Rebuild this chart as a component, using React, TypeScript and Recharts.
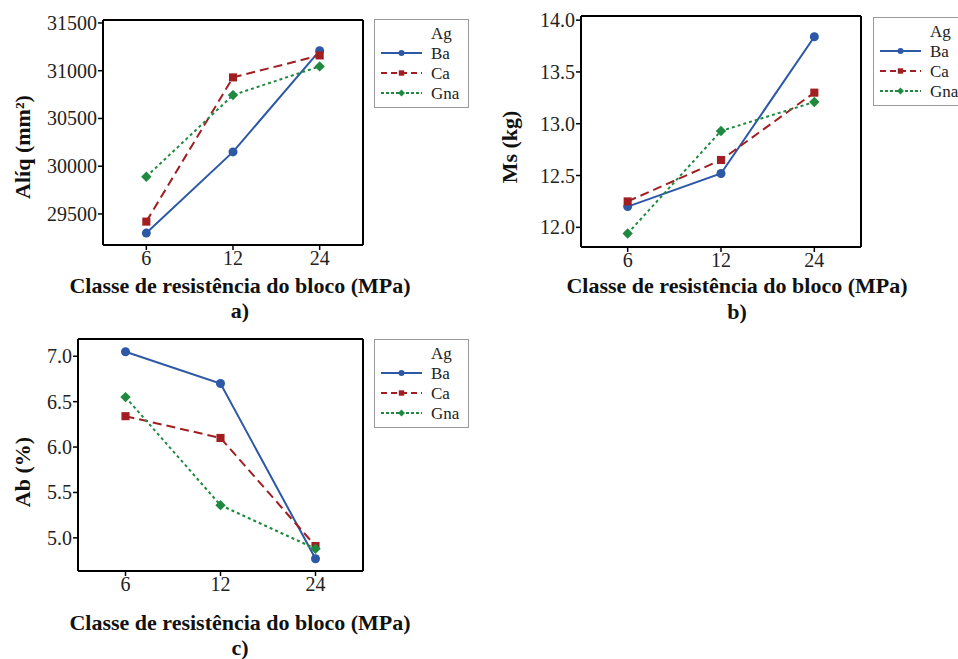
import React from "react";
import { LineChart, Line, XAxis, YAxis } from "recharts";

// block strength classes (MPa)
const CLASSES = ["6", "12", "24"];

// a) Alíq (mm²)
const ALIQ_BA = [29300, 30150, 31210];
const ALIQ_CA = [29420, 30930, 31160];
const ALIQ_GNA = [29890, 30745, 31045];
const ALIQ_TICKS = [29500, 30000, 30500, 31000, 31500];

// b) Ms (kg)
const MS_BA = [12.2, 12.52, 13.84];
const MS_CA = [12.25, 12.65, 13.3];
const MS_GNA = [11.94, 12.93, 13.21];
const MS_TICKS = [12.0, 12.5, 13.0, 13.5, 14.0];

// c) Ab (%)
const AB_BA = [7.05, 6.7, 4.77];
const AB_CA = [6.34, 6.1, 4.91];
const AB_GNA = [6.55, 5.36, 4.88];
const AB_TICKS = [5.0, 5.5, 6.0, 6.5, 7.0];

const SERIF = "Liberation Serif, DejaVu Serif, serif";

type Shape = "circle" | "square" | "diamond";

const SERIES: { key: "Ba" | "Ca" | "Gna"; color: string; dash?: string; legendDash?: string; shape: Shape }[] = [
  { key: "Ba", color: "#2c58a6", shape: "circle" },
  { key: "Ca", color: "#a11f22", dash: "9 5", legendDash: "6 4", shape: "square" },
  { key: "Gna", color: "#1f8a3f", dash: "3 3", legendDash: "3 2", shape: "diamond" },
];

const rows = (ba: number[], ca: number[], gna: number[]) =>
  CLASSES.map((c, i) => ({ cls: c, Ba: ba[i], Ca: ca[i], Gna: gna[i] }));

function Marker({ cx, cy, shape, color, r }: { cx: number; cy: number; shape: Shape; color: string; r: number }) {
  if (cx == null || cy == null) return null;
  if (shape === "circle") return <circle cx={cx} cy={cy} r={r} fill={color} />;
  if (shape === "square")
    return <rect x={cx - r * 0.9} y={cy - r * 0.9} width={r * 1.8} height={r * 1.8} fill={color} />;
  const d = r * 1.15;
  return <polygon points={`${cx},${cy - d} ${cx + d},${cy} ${cx},${cy + d} ${cx - d},${cy}`} fill={color} />;
}

type PanelProps = {
  left: number;
  top: number;
  width: number;
  height: number;
  margin: { top: number; right: number; bottom: number; left: number };
  data: ReturnType<typeof rows>;
  domain: [number, number];
  ticks: number[];
  fmt?: (v: number) => string;
};

const FRAME = { stroke: "#000", strokeWidth: 2 };
const TICKLINE = { stroke: "#000", strokeWidth: 1.5 };

function Panel({ left, top, width, height, margin, data, domain, ticks, fmt }: PanelProps) {
  // frame axes on top/right take 1px each
  const m = { ...margin, top: margin.top - 1, right: margin.right - 1 };
  const plotW = width - margin.left - margin.right - 60;
  const pad = plotW / 6;
  const label = (v: any) => (fmt ? fmt(Number(v)) : String(v));
  return (
    <div style={{ position: "absolute", left, top }}>
      <LineChart width={width} height={height} data={data} margin={m}>
        <XAxis
          dataKey="cls"
          height={30}
          padding={{ left: pad, right: pad }}
          axisLine={FRAME}
          tickSize={5}
          tickMargin={1}
          tickLine={TICKLINE}
          tick={(p: any) => (
            <text x={p.x} y={p.y} dy="0.71em" textAnchor="middle" fontSize={20} fontFamily={SERIF} style={{ fontFamily: SERIF }} fill="#222">
              {p.payload.value}
            </text>
          )}
        />
        <XAxis xAxisId="top" dataKey="cls" orientation="top" height={1} axisLine={FRAME} tick={false} tickLine={false} />
        <YAxis
          type="number"
          domain={domain}
          ticks={ticks}
          allowDataOverflow
          width={60}
          axisLine={FRAME}
          tickSize={5}
          tickMargin={1}
          tickLine={TICKLINE}
          tick={(p: any) => (
            <text x={p.x} y={p.y} dy="0.35em" textAnchor="end" fontSize={20} fontFamily={SERIF} style={{ fontFamily: SERIF }} fill="#222">
              {label(p.payload.value)}
            </text>
          )}
        />
        <YAxis yAxisId="right" orientation="right" width={1} axisLine={FRAME} tick={false} tickLine={false} />
        {SERIES.map((s) => (
          <Line
            key={s.key}
            dataKey={s.key}
            stroke={s.color}
            strokeWidth={2}
            strokeDasharray={s.dash}
            isAnimationActive={false}
            activeDot={false}
            dot={(p: any) => (
              <Marker key={`${s.key}-${p.index}`} cx={p.cx} cy={p.cy} shape={s.shape} color={s.color} r={4.5} />
            )}
          />
        ))}
      </LineChart>
    </div>
  );
}

function LegendBox({ left, top }: { left: number; top: number }) {
  return (
    <svg style={{ position: "absolute", left, top }} width={96} height={90}>
      <rect x={0.5} y={0.5} width={94} height={88} fill="#fff" stroke="#9a9a9a" />
      <text x={57} y={14} dy="0.35em" fontSize={17} fontFamily={SERIF} fill="#222">
        Ag
      </text>
      {SERIES.map((s, i) => {
        const y = 34 + 20 * i;
        return (
          <g key={s.key}>
            <line x1={7} x2={48} y1={y} y2={y} stroke={s.color} strokeWidth={2} strokeDasharray={s.legendDash} />
            <Marker cx={27.5} cy={y} shape={s.shape} color={s.color} r={3} />
            <text x={57} y={y} dy="0.35em" fontSize={17} fontFamily={SERIF} fill="#222">
              {s.key}
            </text>
          </g>
        );
      })}
    </svg>
  );
}

function Title({ x, y, text, rotate }: { x: number; y: number; text: string; rotate?: boolean }) {
  return (
    <div
      style={{
        position: "absolute",
        left: x,
        top: y,
        transform: `translate(-50%, -50%)${rotate ? " rotate(-90deg)" : ""}`,
        fontFamily: SERIF,
        fontWeight: 700,
        fontSize: 22,
        lineHeight: 1,
        whiteSpace: "nowrap",
        color: "#111",
      }}
    >
      {text}
    </div>
  );
}

const X_TITLE = "Classe de resistência do bloco (MPa)";
const one = (v: number) => v.toFixed(1);

export default function App() {
  return (
    <div
      style={{
        position: "absolute",
        left: 0,
        top: 0,
        width: 958,
        height: 659,
        overflow: "hidden",
        background: "#fff",
      }}
    >
      <Panel
        left={0}
        top={0}
        width={480}
        height={320}
        margin={{ top: 20, right: 117, bottom: 45, left: 43 }}
        data={rows(ALIQ_BA, ALIQ_CA, ALIQ_GNA)}
        domain={[29175, 31531]}
        ticks={ALIQ_TICKS}
      />
      <LegendBox left={374} top={19} />
      <Title x={23} y={147} text="Alíq (mm²)" rotate />
      <Title x={240} y={286} text={X_TITLE} />
      <Title x={240} y={311} text="a)" />

      <Panel
        left={480}
        top={0}
        width={478}
        height={320}
        margin={{ top: 16, right: 97, bottom: 43, left: 41 }}
        data={rows(MS_BA, MS_CA, MS_GNA)}
        domain={[11.81, 14.04]}
        ticks={MS_TICKS}
        fmt={one}
      />
      <LegendBox left={873} top={17} />
      <Title x={510} y={147} text="Ms (kg)" rotate />
      <Title x={737} y={286} text={X_TITLE} />
      <Title x={737} y={312} text="b)" />

      <Panel
        left={0}
        top={320}
        width={480}
        height={339}
        margin={{ top: 19, right: 117, bottom: 58, left: 18 }}
        data={rows(AB_BA, AB_CA, AB_GNA)}
        domain={[4.635, 7.19]}
        ticks={AB_TICKS}
        fmt={one}
      />
      <LegendBox left={374} top={339} />
      <Title x={23} y={472} text="Ab (%)" rotate />
      <Title x={240} y={623} text={X_TITLE} />
      <Title x={240} y={648} text="c)" />
    </div>
  );
}
